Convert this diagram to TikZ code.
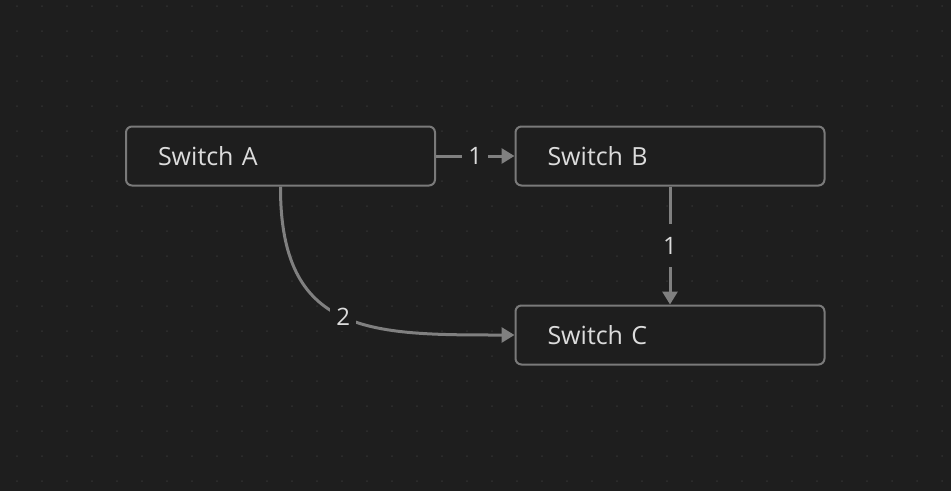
\documentclass[tikz,border=0pt]{standalone}
\usepackage{fontspec}
\setmainfont{Open Sans}
\usetikzlibrary{arrows.meta}
\definecolor{bg}{HTML}{1E1E1E}
\definecolor{dotc}{HTML}{303030}
\definecolor{edge}{HTML}{808080}
\definecolor{border}{HTML}{7A7A7A}
\definecolor{txt}{HTML}{DCDCDC}
\begin{document}
\begin{tikzpicture}[x=1pt,y=-1pt,
  box/.style={draw=border, line width=2pt, fill=bg, rounded corners=6pt,
    minimum height=59pt, text width=245pt, inner xsep=32pt, inner ysep=0pt,
    align=left, text=txt, font=\fontsize{25}{29}\selectfont},
  conn/.style={draw=edge, line width=3pt, -{Triangle[length=13pt,width=15pt]}},
  lbl/.style={fill=bg, text=txt, inner xsep=6pt, inner ysep=13pt, font=\fontsize{24}{28}\selectfont}]
\fill[bg] (0,0) rectangle (951,491);
\useasboundingbox (0,0) rectangle (951,491);
\foreach \i in {0,...,37}{
  \foreach \j in {0,...,19}{
    \fill[dotc] (17+25*\i,6+25*\j) circle (1pt);
  }
}
\node[box] (A) at (280.5,156) {Switch A};
\node[box] (B) at (670,156) {Switch B};
\node[box] (C) at (670,335) {Switch C};
\draw[conn] (A.east) -- node[lbl, inner ysep=4pt] (l1) {1} (B.west);
\draw[conn] (B.south) -- node[lbl] (l2) {1} (C.north);
\draw[conn] (A.south) .. controls (280,335) and (370,335) .. node[lbl, inner sep=6pt] (l3) {2} (C.west);
\end{tikzpicture}
\end{document}
